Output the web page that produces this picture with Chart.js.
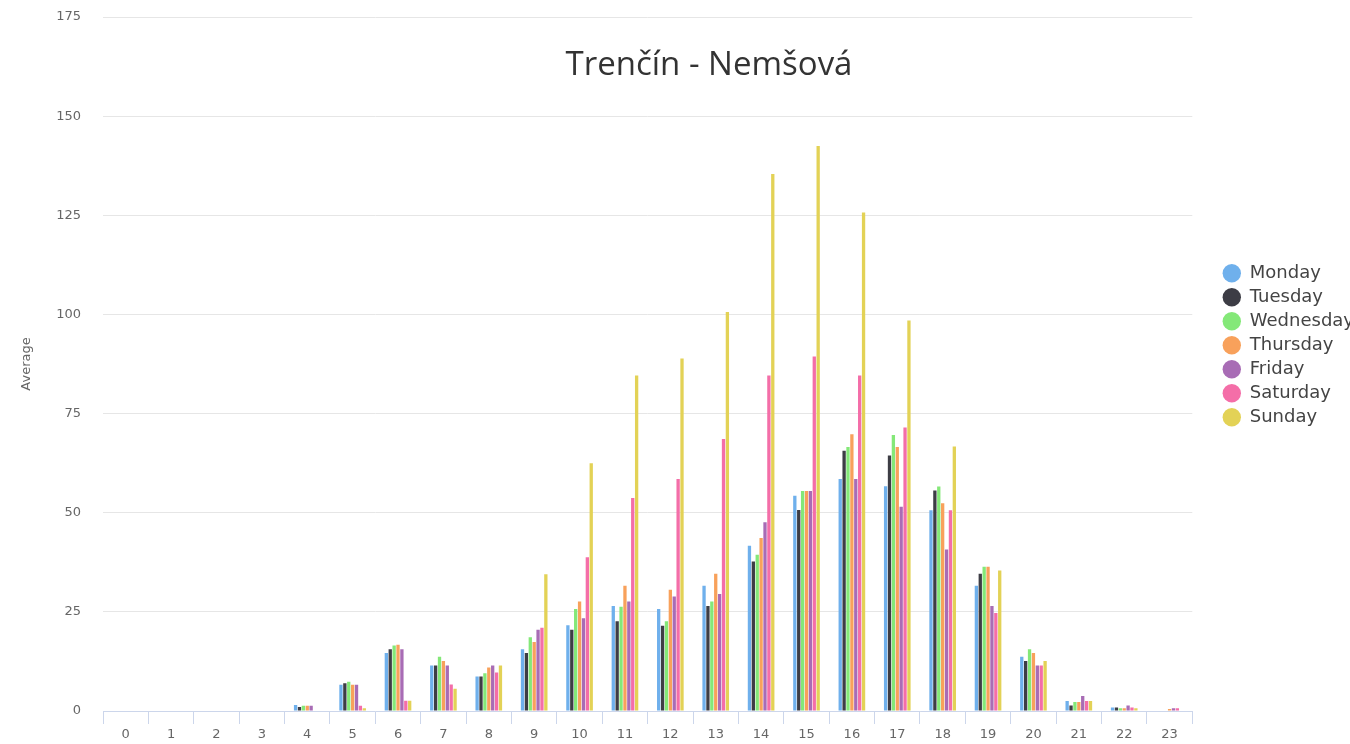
<!DOCTYPE html>
<html>
<head>
<meta charset="utf-8">
<script src="https://cdn.jsdelivr.net/npm/chart.js@4/dist/chart.umd.min.js"></script>
<style>
  html, body { margin: 0; padding: 0; background: #ffffff; overflow: hidden; width: 1350px; height: 744px; }
  #wrap { position: absolute; left: 0; top: 0; width: 1418px; height: 744px; }
</style>
</head>
<body>
<div id="wrap"><canvas id="c"></canvas></div>
<script>
const hours = ['0','1','2','3','4','5','6','7','8','9','10','11','12','13','14','15','16','17','18','19','20','21','22','23'];
const yTicks = [0, 25, 50, 75, 100, 125, 150, 175];
const chartTitle = 'Trenčín - Nemšová';
const yAxisTitle = 'Average';

const monday    = [0,0,0,0,1.5,6.6,14.6,11.5,8.7,15.6,21.6,26.5,25.7,31.6,41.7,54.3,58.5,56.7,50.6,31.6,13.7,2.5,0.9,0];
const tuesday   = [0,0,0,0,1.0,7.0,15.6,11.5,8.7,14.6,20.5,22.6,21.5,26.5,37.7,50.7,65.6,64.4,55.6,34.6,12.6,1.4,0.9,0];
const wednesday = [0,0,0,0,1.3,7.4,16.5,13.7,9.5,18.6,25.7,26.3,22.6,27.6,39.4,55.5,66.6,69.6,56.6,36.4,15.6,2.3,0.7,0];
const thursday  = [0,0,0,0,1.3,6.6,16.7,12.6,11.0,17.4,27.6,31.6,30.6,34.6,43.6,55.5,69.8,66.6,52.4,36.4,14.6,2.3,0.7,0.5];
const friday    = [0,0,0,0,1.3,6.6,15.6,11.5,11.5,20.5,23.4,27.6,28.9,29.5,47.6,55.5,58.5,51.5,40.7,26.5,11.5,3.8,1.4,0.7];
const saturday  = [0,0,0,0,0,1.3,2.6,6.7,9.7,21.0,38.8,53.7,58.5,68.6,84.6,89.4,84.6,71.5,50.6,24.7,11.5,2.5,0.9,0.7];
const sunday    = [0,0,0,0,0,0.7,2.6,5.6,11.5,34.5,62.5,84.6,88.9,100.6,135.4,142.5,125.7,98.5,66.7,35.4,12.6,2.5,0.7,0];

const seriesNames = ['Monday','Tuesday','Wednesday','Thursday','Friday','Saturday','Sunday'];
const seriesValues = [monday, tuesday, wednesday, thursday, friday, saturday, sunday];
const seriesColors = ['#6fb0ec','#3d3d45','#84e878','#f8a15b','#a86cb5','#f46ea8','#e3d256'];

const insideTitle = {
  id: 'insideTitle',
  afterDraw(chart, args, opts) {
    const ctx = chart.ctx;
    ctx.save();
    ctx.font = opts.font;
    ctx.fillStyle = opts.color;
    ctx.textAlign = 'center';
    ctx.textBaseline = 'alphabetic';
    ctx.fillText(opts.text, chart.width / 2, opts.y);
    ctx.restore();
  }
};

const tickFont = { family: '"DejaVu Sans", sans-serif', size: 13 };

new Chart(document.getElementById('c'), {
  type: 'bar',
  data: {
    labels: hours,
    datasets: seriesNames.map((name, i) => ({
      label: name,
      data: seriesValues[i],
      backgroundColor: seriesColors[i],
      borderColor: seriesColors[i],
      borderWidth: 0,
      barPercentage: 0.85,
      categoryPercentage: 0.6
    }))
  },
  plugins: [insideTitle],
  options: {
    responsive: true,
    maintainAspectRatio: false,
    animation: false,
    events: [],
    layout: { padding: { top: 17, right: 54, left: 0, bottom: 0 } },
    scales: {
      x: {
        offset: true,
        grid: { display: true, drawOnChartArea: false, drawTicks: true, tickLength: 13, color: '#ccd6eb', offset: true },
        border: { display: true, color: '#ccd6eb', width: 1 },
        ticks: { color: '#666666', font: tickFont, padding: 3, maxRotation: 0, autoSkip: false },
        afterFit(scale) { scale.height = 33; }
      },
      y: {
        min: 0,
        max: 175,
        afterBuildTicks(scale) { scale.ticks = yTicks.map(v => ({ value: v })); },
        grid: { color: '#e6e6e6', drawTicks: true, tickLength: 22, tickColor: 'rgba(0,0,0,0)', lineWidth: 1 },
        border: { display: false },
        ticks: { color: '#666666', font: tickFont, padding: 0 },
        title: { display: true, text: yAxisTitle, color: '#666666', font: tickFont, padding: { top: 19, bottom: 0 } },
        afterFit(scale) { scale.width = 103; }
      },
      yGap: {
        position: 'right',
        display: true,
        grid: { display: false },
        border: { display: false },
        ticks: { display: false },
        afterFit(scale) { scale.width = 24.5; }
      }
    },
    plugins: {
      tooltip: { enabled: false },
      insideTitle: { text: chartTitle, font: '33px "Open Sans", sans-serif', color: '#333333', y: 75 },
      legend: {
        position: 'right',
        align: 'start',
        title: { display: true, text: '', padding: { top: 240, bottom: 0 }, font: { size: 1 } },
        labels: {
          usePointStyle: true,
          pointStyle: 'circle',
          boxWidth: 21,
          boxHeight: 13,
          padding: 6,
          color: '#444444',
          font: { family: '"DejaVu Sans", sans-serif', size: 18 }
        }
      }
    }
  }
});
</script>
</body>
</html>
